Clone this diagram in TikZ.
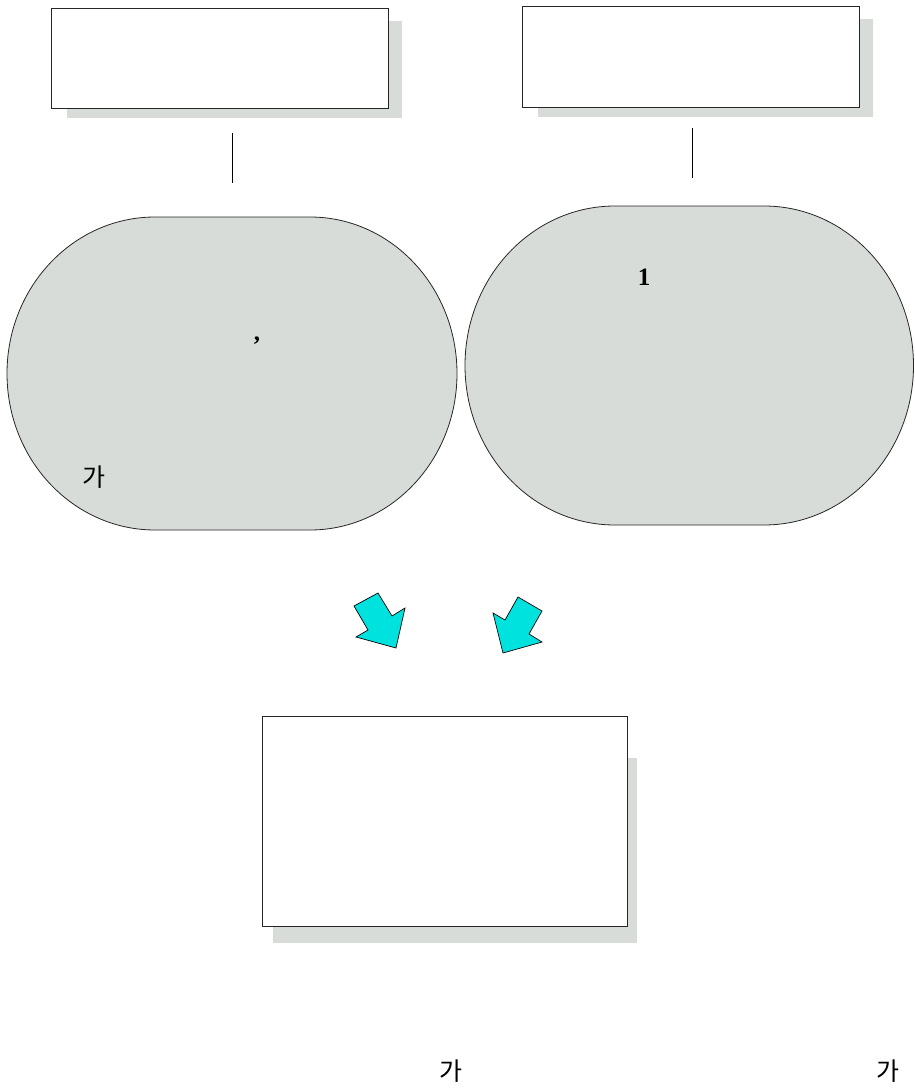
\documentclass[tikz,border=0pt]{standalone}
\usepackage{fontspec}
\setmainfont{Liberation Serif}
\newfontfamily\kr{Noto Sans CJK KR}
\definecolor{shade}{RGB}{215,220,217}
\definecolor{arrowcyan}{RGB}{0,226,222}
\tikzset{
  boxnode/.style={draw=black!85, line width=1.3pt, fill=white, inner sep=0pt, anchor=north west},
  shadowbox/.style={fill=shade, draw=none},
  blob/.style={fill=shade, draw=black!85, line width=0.8pt},
  fatarrow/.style={fill=arrowcyan, draw=black, line width=0.7pt, line join=miter},
  stem/.style={draw=black, line width=0.8pt},
  krtext/.style={font=\kr\fontsize{25}{28}\selectfont, inner sep=0pt},
  bold/.style={font=\fontsize{25}{28}\selectfont\bfseries, inner sep=0pt}
}
\begin{document}
\begin{tikzpicture}[x=1pt,y=-1pt]
\useasboundingbox (0,0) rectangle (914,1089);
% top left box
\fill[shadowbox] (67,21) rectangle (402,118);
\node[boxnode, minimum width=337pt, minimum height=100pt] (tl) at (51,8) {};
% top right box
\fill[shadowbox] (538,19) rectangle (873,117);
\node[boxnode, minimum width=337pt, minimum height=101pt] (tr) at (522,6) {};
% stems
\coordinate (s1a) at (232,133); \coordinate (s1b) at (232,183);
\coordinate (s2a) at (692,128); \coordinate (s2b) at (692,178);
\draw[stem] (s1a) -- (s1b);
\draw[stem] (s2a) -- (s2b);
% left blob
\draw[blob] (155,217) -- (310,217) arc[start angle=-90, end angle=90, x radius=147, y radius=156.5] -- (155,530) arc[start angle=90, end angle=270, x radius=148, y radius=156.5] -- cycle;
% right blob
\draw[blob] (615,206) -- (764,206) arc[start angle=-90, end angle=90, x radius=149.5, y radius=159.5] -- (615,525) arc[start angle=90, end angle=270, x radius=150, y radius=159.5] -- cycle;
% texts in blobs
\node[bold, anchor=base] (comma) at (257,340) {,};
\node[bold, anchor=base] (one) at (644,285) {1};
\node[krtext] (ga1) at (94,477) {가};
% cyan arrows
\draw[fatarrow] (354,606) -- (378,593) -- (392,616) -- (405,608) -- (396,648) -- (356,637) -- (368,630) -- cycle;
\draw[fatarrow] (493,613) -- (505,620) -- (518,597) -- (542,611) -- (529,634) -- (542,642) -- (503,653) -- cycle;
% bottom box
\fill[shadowbox] (273,758) rectangle (637,943);
\node[boxnode, minimum width=365pt, minimum height=210pt] (bot) at (262,716) {};
% bottom texts
\node[krtext] (ga2) at (451,1071) {가};
\node[krtext] (ga3) at (888,1071) {가};
\end{tikzpicture}
\end{document}
